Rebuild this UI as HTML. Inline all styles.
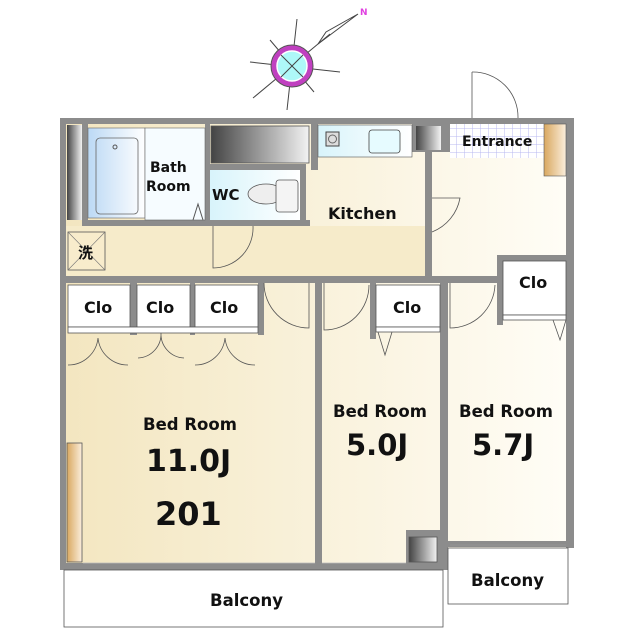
<!DOCTYPE html>
<html><head><meta charset="utf-8"><style>
html,body{margin:0;padding:0;background:#fff;width:640px;height:640px;overflow:hidden}
text{font-family:"DejaVu Sans","Liberation Sans","Noto Sans CJK JP",sans-serif;font-weight:bold;fill:#111}
</style></head><body>
<svg width="640" height="640" viewBox="0 0 640 640" xmlns="http://www.w3.org/2000/svg">
<defs>
<linearGradient id="bg" x1="0" x2="1"><stop offset="0" stop-color="#f3e6c0"/><stop offset="1" stop-color="#fffdf6"/></linearGradient>
<linearGradient id="dk" x1="0" x2="1"><stop offset="0" stop-color="#444"/><stop offset="1" stop-color="#f2f2f2"/></linearGradient>
<linearGradient id="bl" x1="0" x2="1"><stop offset="0" stop-color="#bcd9f5"/><stop offset="1" stop-color="#fff"/></linearGradient>
<linearGradient id="cy" x1="0" x2="1"><stop offset="0" stop-color="#d8f4fb"/><stop offset="1" stop-color="#fff"/></linearGradient>
<linearGradient id="or" x1="0" x2="1"><stop offset="0" stop-color="#d9a860"/><stop offset="1" stop-color="#fbeedc"/></linearGradient>
<pattern id="tile" width="8" height="8" patternUnits="userSpaceOnUse"><rect width="8" height="8" fill="#fff"/><path d="M0 0H8M0 0V8" stroke="#b8b8f0" stroke-width="1"/></pattern>
</defs>

<!-- compass -->
<g stroke="#444" stroke-width="1" fill="none">
<line x1="250" y1="62" x2="340" y2="72"/><line x1="297" y1="19" x2="287" y2="110"/>
<line x1="270" y1="40" x2="314" y2="92"/><line x1="253" y1="98" x2="330" y2="34"/>
<path d="M318 44 L358 14 L326 32 Z"/>
</g>
<circle cx="292" cy="66" r="21" fill="#c040c0" stroke="#555"/>
<circle cx="292" cy="66" r="15" fill="#aef8f8" stroke="#fff" stroke-width="1.5"/>
<line x1="281" y1="55" x2="303" y2="77" stroke="#444"/><line x1="303" y1="55" x2="281" y2="77" stroke="#444"/>
<text x="360" y="15" font-size="9" style="fill:#e040e0">N</text>

<!-- floor fills -->
<rect x="66" y="124" width="500" height="440" fill="url(#bg)"/>
<rect x="66" y="226" width="359" height="50" fill="#f6ebca"/>
<g fill="#8c8c8c">
<rect x="60" y="118" width="514" height="6"/>
<rect x="60" y="118" width="6" height="452"/>
<rect x="566" y="118" width="8" height="430"/>
<rect x="60" y="563" width="384" height="7"/>
<rect x="440" y="283" width="8" height="287"/>
<rect x="448" y="541" width="126" height="6"/>
<rect x="66" y="276" width="500" height="7"/>
<rect x="315" y="283" width="7" height="283"/>
<rect x="425" y="150" width="7" height="126"/>
<rect x="82" y="124" width="6" height="102"/>
<rect x="205" y="124" width="5" height="102"/>
<rect x="82" y="220" width="228" height="6"/>
<rect x="300" y="164" width="6" height="62"/>
<rect x="209" y="164" width="97" height="6"/>
<rect x="311" y="124" width="7" height="46"/>
<rect x="412" y="124" width="38" height="28"/>
<rect x="497" y="255" width="69" height="6"/><rect x="497" y="255" width="6" height="70"/>
<rect x="370" y="283" width="6" height="56"/>
<rect x="130" y="283" width="7" height="52"/><rect x="190" y="283" width="5" height="52"/><rect x="258" y="283" width="6" height="52"/>
<rect x="406" y="530" width="34" height="36"/>
</g>
<rect x="67" y="125" width="15" height="95" fill="url(#dk)"/>
<rect x="88" y="128" width="57" height="90" fill="url(#bl)" stroke="#666" stroke-width=".6"/>
<rect x="96" y="138" width="42" height="76" rx="4" fill="none" stroke="#666" stroke-width=".8"/>
<circle cx="115" cy="147" r="2" fill="none" stroke="#555"/>
<rect x="145" y="128" width="60" height="92" fill="#f6fcff" stroke="#666" stroke-width=".6"/>
<path d="M193 220 L198 204 L203 220" fill="none" stroke="#555"/>
<rect x="211" y="126" width="98" height="37" fill="url(#dk)" stroke="#555" stroke-width=".8"/>
<rect x="210" y="170" width="90" height="50" fill="url(#cy)"/>
<ellipse cx="266" cy="194" rx="18" ry="10" fill="#eee" stroke="#555" stroke-width=".8"/>
<rect x="276" y="180" width="22" height="32" rx="3" fill="#f4f4f4" stroke="#555" stroke-width=".8"/>
<rect x="318" y="125" width="94" height="32" fill="url(#cy)" stroke="#555" stroke-width=".6"/>
<rect x="326" y="132" width="13" height="14" fill="#ddd" stroke="#444"/><circle cx="332.5" cy="139" r="4" fill="none" stroke="#666"/>
<rect x="369" y="130" width="31" height="23" rx="3" fill="#e6fbff" stroke="#444" stroke-width=".8"/>
<rect x="416" y="126" width="25" height="24" fill="url(#dk)"/>
<rect x="450" y="124" width="95" height="34" fill="url(#tile)"/>
<rect x="544" y="124" width="22" height="52" fill="url(#or)" stroke="#555" stroke-width=".6"/>
<rect x="68" y="232" width="37" height="38" fill="#f8eccc" stroke="#555" stroke-width=".8"/>
<line x1="68" y1="232" x2="105" y2="270" stroke="#777" stroke-width=".6"/><line x1="105" y1="232" x2="68" y2="270" stroke="#777" stroke-width=".6"/>
<g fill="#fff" stroke="#555" stroke-width=".8">
<rect x="68" y="285" width="62" height="42"/><rect x="137" y="285" width="53" height="42"/><rect x="195" y="285" width="63" height="42"/>
<rect x="68" y="327" width="190" height="6"/>
<rect x="376" y="285" width="64" height="42"/><rect x="376" y="327" width="64" height="5"/>
<rect x="503" y="261" width="63" height="54"/><rect x="503" y="315" width="63" height="5"/>
<rect x="67" y="443" width="15" height="119" fill="url(#or)"/>
<rect x="409" y="537" width="28" height="25" fill="url(#dk)"/>
<rect x="64" y="570" width="379" height="57"/>
<rect x="448" y="548" width="120" height="56"/>
</g>
<g fill="none" stroke="#555" stroke-width=".8">
<path d="M213 226 V268 A40 40 0 0 0 253 226"/>
<path d="M264 283 A45 45 0 0 0 309 328 V283"/>
<path d="M324 283 V330 A45 45 0 0 0 369 285"/>
<path d="M450 283 V328 A45 45 0 0 0 495 285"/>
<path d="M432 198 H460 A45 45 0 0 1 432 232"/>
<path d="M472 72 V118 M472 72 A45 45 0 0 1 518 118"/>
<path d="M68 365 A30 30 0 0 0 98 338 A30 30 0 0 0 128 365"/>
<path d="M138 358 A24 24 0 0 0 161 333 A24 24 0 0 0 184 358"/>
<path d="M195 365 A30 30 0 0 0 225 338 A30 30 0 0 0 255 365"/>
<path d="M378 332 L385 355 L392 332"/><path d="M553 320 L560 340 L566 320"/>
<path d="M450 545 H566" stroke="#999"/>
<path d="M83 563 H315 M322 563 H406" stroke="#bbb"/>
</g>
<text x="150" y="172" font-size="14">Bath</text>
<text x="146" y="191" font-size="14">Room</text>
<text x="212" y="200" font-size="15">WC</text>
<text x="328" y="219" font-size="16">Kitchen</text>
<text x="462" y="146" font-size="14">Entrance</text>
<text x="78" y="258" font-size="15" style="font-family:'Noto Sans CJK JP',sans-serif">洗</text>
<text x="84" y="313" font-size="16">Clo</text><text x="146" y="313" font-size="16">Clo</text><text x="210" y="313" font-size="16">Clo</text>
<text x="393" y="313" font-size="16">Clo</text><text x="519" y="288" font-size="16">Clo</text>
<text x="143" y="430" font-size="16.5">Bed Room</text>
<text x="146" y="471" font-size="30">11.0J</text>
<text x="155" y="525" font-size="32">201</text>
<text x="333" y="417" font-size="16.5">Bed Room</text>
<text x="346" y="455" font-size="29">5.0J</text>
<text x="459" y="417" font-size="16.5">Bed Room</text>
<text x="472" y="455" font-size="29">5.7J</text>
<text x="210" y="606" font-size="16.5">Balcony</text>
<text x="471" y="586" font-size="16.5">Balcony</text>
</svg>
</body></html>
